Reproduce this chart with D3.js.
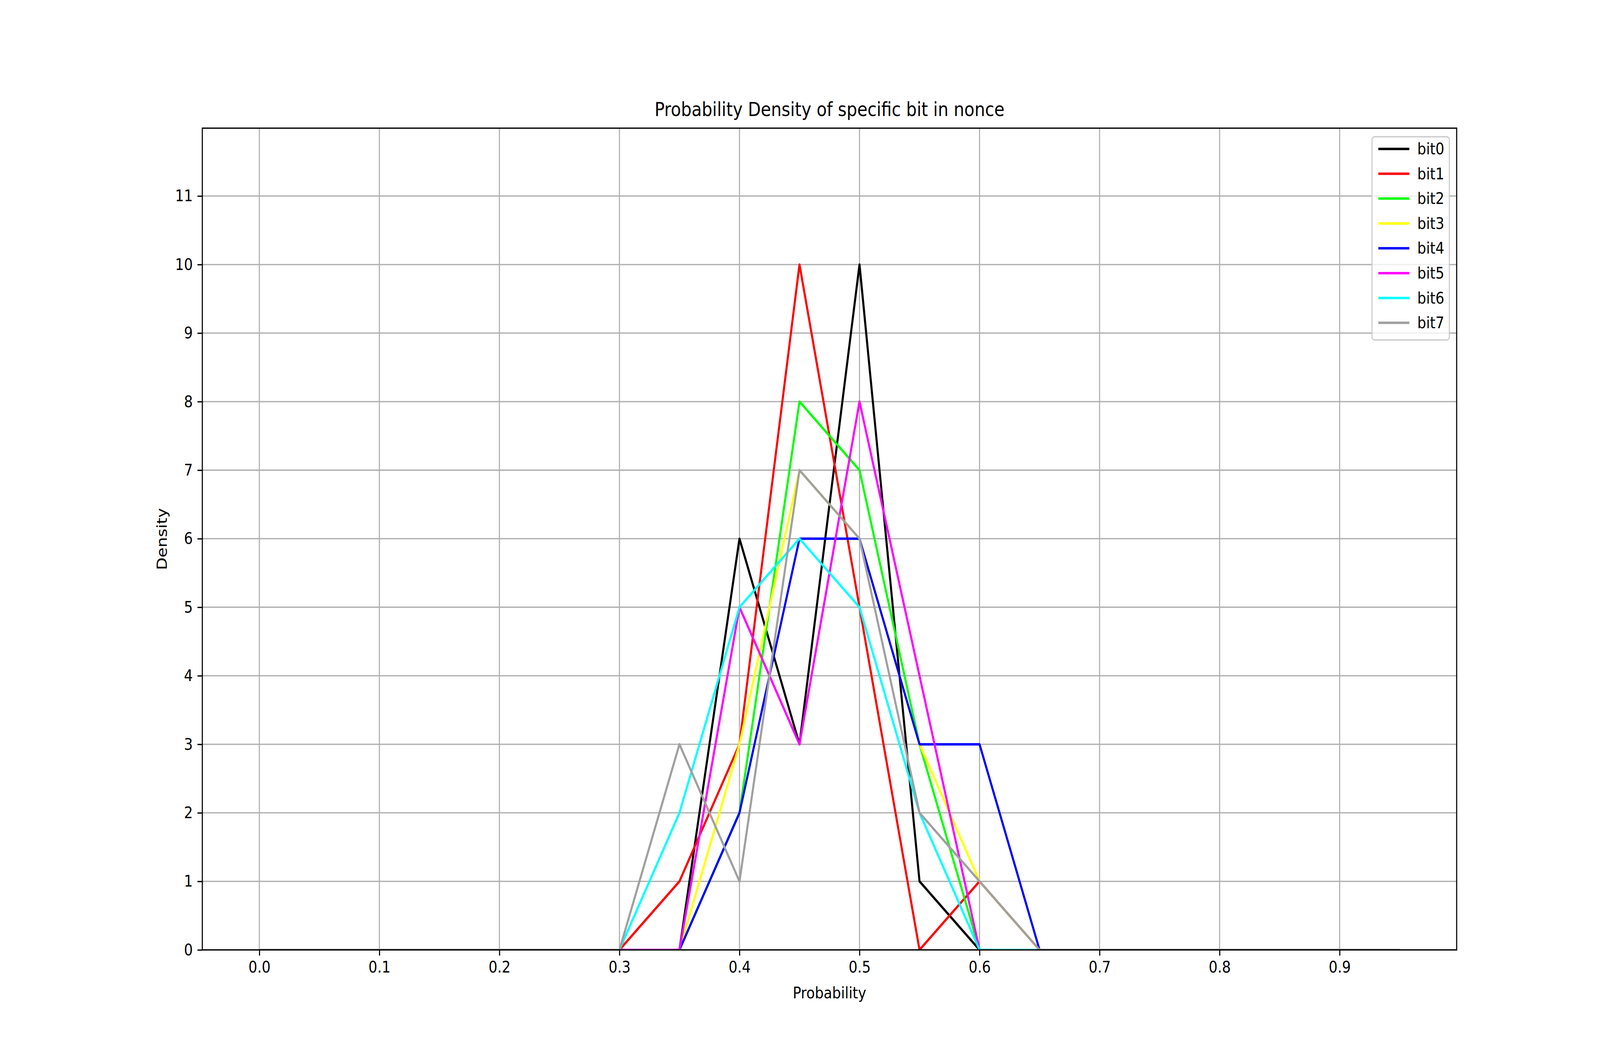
<!DOCTYPE html>
<html><head><meta charset="utf-8">
<script src="https://cdn.jsdelivr.net/npm/d3@7"></script>
<style>html,body{margin:0;padding:0;background:#fff;width:100vw;height:100vh;overflow:hidden}svg{display:block;width:100vw;height:100vh}</style></head>
<body><svg id="c" viewBox="0 0 4800 2700" preserveAspectRatio="none"></svg>
<script>
const xs = d3.range(20).map(i => +(i*0.05).toFixed(2));
const seriesNames = ["bit0","bit1","bit2","bit3","bit4","bit5","bit6","bit7"];
const colors = ["#000000","#ff0000","#00ff00","#ffff00","#0000ff","#ff00ff","#00ffff","#a0a0a0"];
// values at 0.30,0.35,...,0.65; zero elsewhere
const bit0 = [0,0,6,3,10,1,0,0];
const bit1 = [0,1,3,10,5,0,1,0];
const bit2 = [0,0,2,8,7,3,0,0];
const bit3 = [0,0,3,7,6,3,1,0];
const bit4 = [0,0,2,6,6,3,3,0];
const bit5 = [0,0,5,3,8,4,0,0];
const bit6 = [0,2,5,6,5,2,0,0];
const bit7 = [0,3,1,7,6,2,1,0];
const mid = [bit0,bit1,bit2,bit3,bit4,bit5,bit6,bit7];
const full = mid.map(m => [...Array(6).fill(0), ...m, ...Array(6).fill(0)]);
const xTicks = [0,0.1,0.2,0.3,0.4,0.5,0.6,0.7,0.8,0.9];
const yTicks = d3.range(0,12);

const L=607,R=4370,T=328,B=2431;
const svg=d3.select("#c");
const font="DejaVu Sans";
const x=d3.scaleLinear().domain([-0.0475,0.9975]).range([L,R]);
const y=d3.scaleLinear().domain([0,11.99]).range([B,T]);
const g=svg.append("g");
g.selectAll(".gx").data(xTicks).join("line").attr("x1",d=>x(d)).attr("x2",d=>x(d)).attr("y1",T).attr("y2",B).attr("stroke","#b0b0b0").attr("stroke-width",3.3);
g.selectAll(".gy").data(yTicks).join("line").attr("y1",d=>y(d)).attr("y2",d=>y(d)).attr("x1",L).attr("x2",R).attr("stroke","#b0b0b0").attr("stroke-width",3.3);
const line=d3.line().x((d,i)=>x(xs[i])).y(d=>y(d));
svg.append("clipPath").attr("id","cp").append("rect").attr("x",L).attr("y",T).attr("width",R-L).attr("height",B-T);
full.forEach((s,k)=>{
  svg.append("path").datum(s).attr("d",line).attr("fill","none").attr("stroke",colors[k]).attr("stroke-width",6.25).attr("stroke-linejoin","round").attr("clip-path","url(#cp)");
});
const xa=svg.append("g").attr("transform",`translate(0,${B})`).call(d3.axisBottom(x).tickValues(xTicks).tickFormat(d3.format(".1f")).tickSize(14.6).tickPadding(14));
const ya=svg.append("g").attr("transform",`translate(${L},0)`).call(d3.axisLeft(y).tickValues(yTicks).tickFormat(d3.format("d")).tickSize(14.6).tickPadding(14));
[xa,ya].forEach(a=>{a.select(".domain").remove();a.selectAll("line").attr("stroke","#000").attr("stroke-width",3.3);a.selectAll("text").attr("font-family",font).attr("font-size",41.7).attr("fill","#000");});
svg.append("rect").attr("x",L).attr("y",T).attr("width",R-L).attr("height",B-T).attr("fill","none").attr("stroke","#000").attr("stroke-width",3.3);
svg.append("text").attr("x",(L+R)/2).attr("y",297).attr("text-anchor","middle").attr("font-family",font).attr("font-size",50).text("Probability Density of specific bit in nonce");
svg.append("text").attr("x",(L+R)/2).attr("y",2555).attr("text-anchor","middle").attr("font-family",font).attr("font-size",41.7).text("Probability");
svg.append("text").attr("transform",`translate(500,${(T+B)/2}) rotate(-90)`).attr("text-anchor","middle").attr("font-family",font).attr("font-size",41.7).text("Density");
const lg=svg.append("g");
lg.append("rect").attr("x",4116).attr("y",350).attr("width",232).attr("height",520).attr("rx",8).attr("fill","#fff").attr("fill-opacity",0.8).attr("stroke","#cccccc").attr("stroke-width",3.3);
seriesNames.forEach((n,k)=>{
  const yy=381+k*63.6;
  lg.append("line").attr("x1",4135).attr("x2",4228).attr("y1",yy).attr("y2",yy).attr("stroke",colors[k]).attr("stroke-width",6.25);
  lg.append("text").attr("x",4252).attr("y",yy+14).attr("font-family",font).attr("font-size",41.7).text(n);
});
</script></body></html>
